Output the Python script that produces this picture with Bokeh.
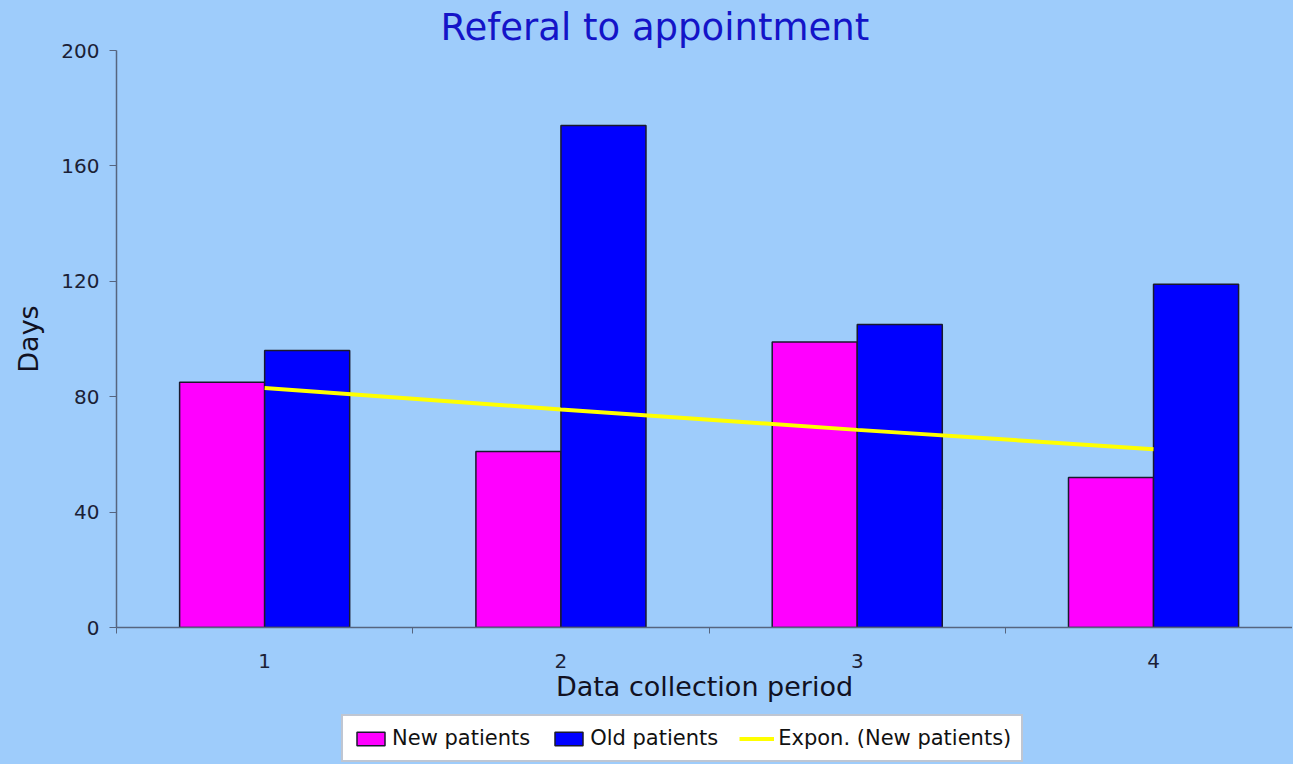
from bokeh.plotting import figure
from bokeh.layouts import column
from bokeh.models import (ColumnDataSource, FixedTicker, Legend, LegendItem, Range1d)
from bokeh.transform import dodge
from bokeh.embed import file_html
from bokeh.resources import INLINE

# ---- data ----
periods = [1, 2, 3, 4]
period_labels = ["1", "2", "3", "4"]
new_patients = [85, 61, 99, 52]
old_patients = [96, 174, 105, 119]
trend_new = [83.0, 75.6, 68.5, 61.8]   # Expon. (New patients) trendline
y_ticks = [0, 40, 80, 120, 160, 200]
series_names = ["New patients", "Old patients", "Expon. (New patients)"]

BG = "#9ECCFB"
FONT = "DejaVu Sans"
PINK = "#FF00FF"
BLUE = "#0000FF"
YELLOW = "#FFFF00"
EDGE = "#1a1a2e"

src = ColumnDataSource(dict(x=periods, new=new_patients, old=old_patients, trend=trend_new))

p = figure(width=1292, height=713, output_backend="svg", toolbar_location=None,
           x_range=Range1d(0.5, 4.469), y_range=Range1d(0, 200),
           min_border_left=116, min_border_right=0, min_border_top=50, min_border_bottom=86)

p.background_fill_color = BG
p.border_fill_color = BG
p.outline_line_color = None
p.grid.visible = False

bw = 0.287
p.vbar(x=dodge("x", -bw / 2), top="new", width=bw, source=src,
       fill_color=PINK, line_color=EDGE, line_width=1.5)
p.vbar(x=dodge("x", bw / 2), top="old", width=bw, source=src,
       fill_color=BLUE, line_color=EDGE, line_width=1.5)
p.line(x="x", y="trend", source=src, line_color=YELLOW, line_width=4)

# title
p.title.text = "Referal to appointment"
p.title.text_font = FONT
p.title.text_font_size = "37px"
p.title.text_font_style = "normal"
p.title.text_color = "#1414C8"
p.title.align = "left"
p.title.offset = 324
p.title.standoff = 4

# axes
for ax in (p.xaxis[0], p.yaxis[0]):
    ax.axis_line_color = "#56657f"
    ax.axis_line_width = 1.5
    ax.major_label_text_font = FONT
    ax.major_label_text_font_size = "20px"
    ax.major_label_text_color = "#1b2136"
    ax.axis_label_text_font = FONT
    ax.axis_label_text_font_style = "normal"
    ax.axis_label_text_color = "#111122"

yax = p.yaxis[0]
yax.ticker = FixedTicker(ticks=y_ticks)
yax.major_tick_line_color = "#56657f"
yax.major_tick_out = 7
yax.major_tick_in = 0
yax.minor_tick_line_color = None
yax.major_label_standoff = 10
yax.axis_label = "Days"
yax.axis_label_text_font_size = "27px"
yax.axis_label_standoff = 14

xax = p.xaxis[0]
xax.ticker = FixedTicker(ticks=periods, minor_ticks=[0.5, 1.5, 2.5, 3.5])
xax.major_label_overrides = {k: v for k, v in zip(periods, period_labels)}
xax.major_tick_line_color = None
xax.minor_tick_line_color = "#56657f"
xax.minor_tick_out = 6
xax.minor_tick_in = 0
xax.major_label_standoff = 20
xax.axis_label = "Data collection period"
xax.axis_label_text_font_size = "27px"
xax.axis_label_standoff = 0

# ---- legend strip (separate figure below the chart) ----
q = figure(width=1292, height=50, output_backend="svg", toolbar_location=None,
           x_range=Range1d(0, 1), y_range=Range1d(0, 1),
           x_axis_type=None, y_axis_type=None,
           min_border_left=0, min_border_right=0, min_border_top=0, min_border_bottom=0)
q.background_fill_color = BG
q.border_fill_color = BG
q.outline_line_color = None
q.grid.visible = False
# key-only renderers (NaN data: nothing drawn except their legend swatches)
nan = float("nan")
keys = ColumnDataSource(dict(x=[nan], y=[nan]))
l1 = q.vbar(x="x", top="y", width=0.1, source=keys, fill_color=PINK, line_color=EDGE, line_width=1.5)
l2 = q.vbar(x="x", top="y", width=0.1, source=keys, fill_color=BLUE, line_color=EDGE, line_width=1.5)
l3 = q.line(x="x", y="y", source=keys, line_color=YELLOW, line_width=4)

legend = Legend(items=[
    LegendItem(label=series_names[0], renderers=[l1]),
    LegendItem(label=series_names[1], renderers=[l2]),
    LegendItem(label=series_names[2], renderers=[l3]),
], orientation="horizontal", location=(225, 1))
legend.background_fill_color = "white"
legend.background_fill_alpha = 1
legend.border_line_color = "#7f8ea6"
legend.border_line_width = 2
legend.label_text_font = FONT
legend.label_text_font_size = "21px"
legend.label_text_color = "#111111"
legend.glyph_width = 35
legend.glyph_height = 17
legend.label_standoff = 4
legend.spacing = 21
legend.padding = 10
legend.margin = 0
q.add_layout(legend, "center")

layout = column(p, q, spacing=0)
html = file_html(layout, INLINE)
html = html.replace("</head>", "<style>html, body { background: %s; }</style></head>" % BG, 1)
open("out.html", "w").write(html)
